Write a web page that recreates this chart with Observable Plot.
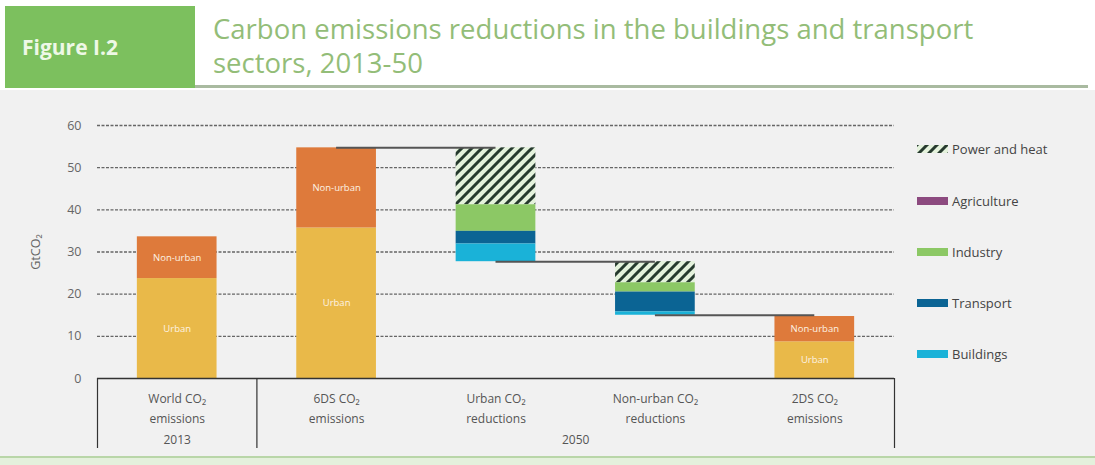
<!DOCTYPE html>
<html><head><meta charset="utf-8">
<script src="https://cdn.jsdelivr.net/npm/d3@7"></script>
<script src="https://cdn.jsdelivr.net/npm/@observablehq/plot@0.6"></script>
<style>
body{margin:0;width:1095px;height:465px;overflow:hidden;background:#fff;font-family:"Open Sans",sans-serif;position:relative}
#bg{position:absolute;left:0;top:90px;width:1095px;height:366px;background:#f1f1f1}
#bottom{position:absolute;left:0;top:456px;width:1095px;height:9px;background:#e4f0dc;border-top:2px solid #b9d6a8}
#fig{position:absolute;left:5px;top:6px;width:190px;height:82px;background:#7cc05e;color:#eef8e6;font-weight:bold;font-size:21px;display:flex;align-items:center;padding-left:17px;box-sizing:border-box}
#titlebox{position:absolute;left:195px;top:8px;width:893px;height:77px;background:#fff;border-bottom:3px solid #a9baa0}
#title{position:absolute;left:213px;top:12px;color:#93bd78;font-size:27.5px;line-height:34px;white-space:nowrap}
#chart{position:absolute;left:0;top:110px}
#legend{position:absolute;left:917px;top:0;width:175px;height:465px}
.item{position:absolute;left:0;height:16px;display:flex;align-items:center;font-size:13px;color:#444;white-space:nowrap}
.item svg{margin-right:4px}
</style>
</head><body>
<div id="bg"></div>
<div id="bottom"></div>
<div id="fig">Figure I.2</div>
<div id="titlebox"></div>
<div id="title">Carbon emissions reductions in the buildings and transport<br>sectors, 2013-50</div>
<div id="chart"></div>
<div id="legend"></div>
<script>
// ---- data ----
const categories = ["World CO₂\nemissions", "6DS CO₂\nemissions", "Urban CO₂\nreductions", "Non-urban CO₂\nreductions", "2DS CO₂\nemissions"];
const years = ["2013", "2050"];
const yearFirstCategory = [0, 1];
const yearLastCategory = [0, 4];
const emissionParts = ["Urban", "Non-urban"];
const world2013 = [23.7, 9.9];
const sixDS2050 = [35.7, 19.0];
const twoDS2050 = [8.7, 6.0];
const sectors = ["Power and heat", "Agriculture", "Industry", "Transport", "Buildings"];
const urbanReductions = [13.5, 0, 6.3, 3.0, 4.2];
const nonUrbanReductions = [5.0, 0, 2.2, 4.7, 0.8];
const yTicks = [0, 10, 20, 30, 40, 50, 60];
const partColors = ["#e9b949", "#de7a3b"];
const sectorColors = ["url(#hatch)", "#8c4a7f", "#8cc865", "#0b6494", "#1ab2d8"];

// ---- build tables ----
const rows = [];
const labels = [];
function stackEmissions(col, vals) {
  let base = 0;
  vals.forEach((v, i) => {
    rows.push({col, key: emissionParts[i], y1: base, y2: base + v});
    labels.push({col, text: emissionParts[i], y: base + v / 2});
    base += v;
  });
}
stackEmissions(0, world2013);
stackEmissions(1, sixDS2050);
stackEmissions(4, twoDS2050);
const sixTotal = d3.sum(sixDS2050);
function stackReductions(col, top, vals) {
  let t = top;
  vals.forEach((v, i) => {
    if (v > 0) rows.push({col, key: sectors[i], y1: t - v, y2: t});
    t -= v;
  });
  return t;
}
const afterUrban = stackReductions(2, sixTotal, urbanReductions);
const afterNonUrban = stackReductions(3, afterUrban, nonUrbanReductions);
const links = [
  {from: 1, to: 2, y: sixTotal},
  {from: 2, to: 3, y: afterUrban},
  {from: 3, to: 4, y: afterNonUrban}
];
const catRows = categories.map((c, i) => ({i, c}));
const yearRows = years.map((y, k) => ({y, x: (yearFirstCategory[k] + yearLastCategory[k] + 1) / 2}));
const separators = [0, ...yearFirstCategory.slice(1), yearLastCategory[yearLastCategory.length - 1] + 1];

const plot = Plot.plot({
  width: 1095,
  height: 345,
  marginTop: 15,
  marginBottom: 77,
  marginLeft: 97,
  marginRight: 201,
  style: {background: "transparent", fontFamily: "Open Sans, sans-serif", fontSize: "12px", color: "#555"},
  x: {domain: [0, categories.length], axis: null},
  y: {domain: [0, 60], axis: null},
  color: {domain: [...emissionParts, ...sectors], range: [...partColors, ...sectorColors]},
  marks: [
    Plot.ruleY(yTicks.filter(d => d > 0), {stroke: "#666", strokeDasharray: "3,1.5", strokeWidth: 1.4}),
    Plot.axisY({ticks: yTicks, tickSize: 0, tickPadding: 16, label: "GtCO₂", labelAnchor: "center", labelOffset: 66, labelArrow: "none", fontSize: 12.5, color: "#666"}),
    Plot.rect(rows, {x1: d => d.col + 0.25, x2: d => d.col + 0.75, y1: "y1", y2: "y2", fill: "key"}),
    Plot.text(labels, {x: d => d.col + 0.5, y: "y", text: "text", fill: "#fdf3e4", fontSize: 9.5}),
    Plot.ruleY(links, {x1: d => d.from + 0.5, x2: d => d.to + 0.5, y: "y", stroke: "#555", strokeWidth: 2}),
    Plot.ruleY([0], {stroke: "#333", strokeWidth: 1.5}),
    Plot.axisX({ticks: separators, tickSize: 70, tickFormat: () => "", label: null, stroke: "#333", strokeWidth: 1.2}),
    Plot.text(catRows, {x: d => d.i + 0.5, y: 0, text: "c", dy: 10, lineAnchor: "top", lineHeight: 1.7, fontSize: 12, fill: "#555"}),
    Plot.text(yearRows, {x: "x", y: 0, text: "y", dy: 62, fontSize: 12, fill: "#555"})
  ]
});
d3.select(plot).insert("defs", ":first-child").html(
  `<pattern id="hatch" patternUnits="userSpaceOnUse" width="10" height="10">
     <rect width="10" height="10" fill="#e4f2dc"/>
     <path d="M-2,2 l4,-4 M0,10 l10,-10 M8,12 l4,-4" stroke="#263a2e" stroke-width="3"/>
   </pattern>`);
document.getElementById("chart").appendChild(plot);

// ---- legend ----
const legendCenters = [149, 201, 252, 303, 354];
const legend = document.getElementById("legend");
sectors.forEach((s, i) => {
  const div = document.createElement("div");
  div.className = "item";
  div.style.top = (legendCenters[i] - 8) + "px";
  const ns = "http://www.w3.org/2000/svg";
  const svg = document.createElementNS(ns, "svg");
  svg.setAttribute("width", 31); svg.setAttribute("height", 8);
  const r = document.createElementNS(ns, "rect");
  r.setAttribute("width", 31); r.setAttribute("height", 8);
  r.setAttribute("fill", sectorColors[i]);
  svg.appendChild(r);
  div.appendChild(svg);
  div.appendChild(document.createTextNode(s));
  legend.appendChild(div);
});
</script>
</body></html>
